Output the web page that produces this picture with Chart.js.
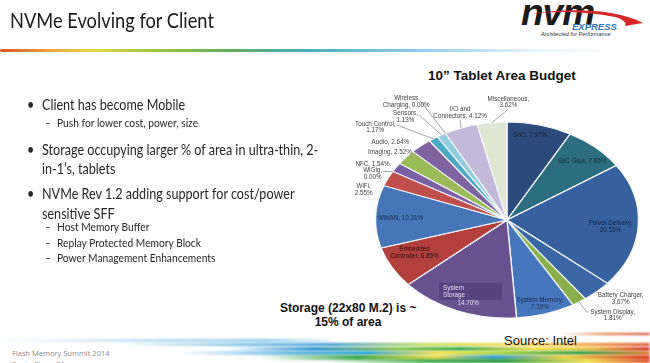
<!DOCTYPE html>
<html>
<head>
<meta charset="utf-8">
<script src="https://cdn.jsdelivr.net/npm/chart.js@4.4.1/dist/chart.umd.min.js"></script>
<style>
  html, body { margin: 0; padding: 0; background: #fff; }
  #slide { position: relative; width: 650px; height: 363px; overflow: hidden; background: #fff; }
  #slide div { position: absolute; white-space: nowrap; }
  #pie { position: absolute; left: 0; top: 0; }
  .title { left: 10px; top: 6px; font: 22px Lato, "Open Sans", sans-serif; color: #1a1a1a; transform: scaleX(0.83); transform-origin: left; }
  .rule { left: 0; top: 49px; width: 610px; height: 3px;
    background: linear-gradient(to right, #d9572b 0%, #e8a23a 8%, #e6d64a 15%, #9cc53e 25%, #5fb05a 38%, #45aebe 50%, #8ccbe8 68%, rgba(200,228,242,0.4) 88%, rgba(255,255,255,0) 100%);
    border-radius: 2px; filter: blur(0.4px); }
  .b { font: 15px Lato, "Open Sans", sans-serif; color: #262626; line-height: 18px; transform: scaleX(0.84); transform-origin: left; }
  .s { font: 11px Lato, "Open Sans", sans-serif; color: #262626; line-height: 14px; transform: scaleX(0.93); transform-origin: left; }
  .ctitle { left: 428px; top: 68px; font: bold 13.5px "Liberation Sans", Arial, sans-serif; color: #111; }
  .note { left: 280px; top: 301px; width: 136px; text-align: center; font: bold 12px "Liberation Sans", Arial, sans-serif; color: #111; line-height: 14px; }
  .src { left: 504px; top: 333px; font: 13px "Liberation Sans", Arial, sans-serif; color: #111; }
  .foot { left: 12px; font: 7.5px "Open Sans", sans-serif; color: #8a8a8a; }
  .streak { height: 3px; filter: blur(0.8px); border-radius: 2px; }
  .logo-nvm { left: 521px; top: -8px; font: bold italic 37px "Liberation Sans", Arial, sans-serif; color: #1b1b1b; letter-spacing: -1px; }
  .logo-ex { left: 572px; top: 21px; font: bold italic 9.5px "Liberation Sans", Arial, sans-serif; color: #2a6fc0; }
  .logo-tag { left: 541px; top: 31px; font: italic 5.6px "Liberation Sans", Arial, sans-serif; color: #333; }
</style>
</head>
<body>
<div id="slide">
  <div class="title">NVMe Evolving for Client</div>
  <div class="rule"></div>

  <div class="logo-nvm">nvm</div>
  <svg style="position:absolute;left:515px;top:5px" width="132" height="26">
    <path d="M14 9 C 50 3, 100 3, 128 18 C 120 19, 116 20, 110 21 C 112 18, 108 14, 100 12 C 70 6, 40 6, 14 9 Z" fill="#d8262b"/>
  </svg>
  <div class="logo-ex">EXPRESS</div>
  <div class="logo-tag">Architected for Performance</div>

  <div class="b" style="left:27px;top:95px">•</div>
  <div class="b" style="left:42px;top:95px">Client has become Mobile</div>
  <div class="s" style="left:45px;top:116px">–</div>
  <div class="s" style="left:57px;top:116px">Push for lower cost, power, size</div>
  <div class="b" style="left:27px;top:140px">•</div>
  <div class="b" style="left:42px;top:140px">Storage occupying larger % of area in ultra-thin, 2-</div>
  <div class="b" style="left:42px;top:159px">in-1’s, tablets</div>
  <div class="b" style="left:27px;top:184px">•</div>
  <div class="b" style="left:42px;top:184px">NVMe Rev 1.2 adding support for cost/power</div>
  <div class="b" style="left:42px;top:204px">sensitive SFF</div>
  <div class="s" style="left:45px;top:220px">–</div>
  <div class="s" style="left:57px;top:220px">Host Memory Buffer</div>
  <div class="s" style="left:45px;top:236px">–</div>
  <div class="s" style="left:57px;top:236px">Replay Protected Memory Block</div>
  <div class="s" style="left:45px;top:251px">–</div>
  <div class="s" style="left:57px;top:251px">Power Management Enhancements</div>

  <div class="ctitle">10” Tablet Area Budget</div>

  <div class="streak" style="left:0;top:339px;width:330px;background:linear-gradient(to right, rgba(190,225,242,0), rgba(170,215,238,0.7) 40%, rgba(120,190,228,0.8) 80%, rgba(160,210,235,0.3));"></div>
  <div class="streak" style="left:120px;top:343px;width:530px;background:linear-gradient(to right, rgba(170,215,238,0), #8ccbe8 20%, #3d9ad6 40%, #c7df4c 58%, #f2d84a 72%, #f0a838 86%, #e0502e);"></div>
  <div class="streak" style="left:230px;top:347px;width:420px;height:4px;background:linear-gradient(to right, rgba(95,176,224,0), #2a8fcf 20%, #8cc84a 40%, #3aa84a 55%, #f0e04a 72%, #e8c23a 85%, #d9342b);"></div>
  <div class="streak" style="left:180px;top:351px;width:470px;height:4px;background:linear-gradient(to right, rgba(120,190,230,0), #5eb4e2 25%, #2fa4d8 40%, #f4e24a 55%, #9fcf3a 70%, #35a04a 85%, #e27c2a);"></div>
  <div class="streak" style="left:260px;top:355px;width:390px;height:5px;background:linear-gradient(to right, rgba(60,160,80,0), #3da84e 25%, #f2dc4a 45%, #2fa0d0 60%, #eccf3f 78%, #d9412b);"></div>
  <div class="streak" style="left:330px;top:359px;width:320px;height:4px;background:linear-gradient(to right, rgba(60,160,80,0), #45ad4e 30%, #2b9a3f 55%, #f2e04a 80%, #e04a2b);"></div>
  <div class="streak" style="left:560px;top:333px;width:90px;height:2px;background:linear-gradient(to right, rgba(230,120,60,0), #e77b3c 50%, #d9402b);"></div>

  <div class="src">Source: Intel</div>
  <div class="note">Storage (22x80 M.2) is ~<br>15% of area</div>
  <div class="foot" style="top:348px">Flash Memory Summit 2014</div>
  <div class="foot" style="top:359px">Santa Clara, CA</div>

  <canvas id="pie" width="650" height="363"></canvas>
</div>

<script>
// slices, clockwise from 12 o'clock
const categories = [
  "SoC", "SoC Glue", "Power Delivery", "Battery Charger", "System Display",
  "System Memory", "System\nStorage", "Embedded\nController", "WWAN", "WiFi",
  "WiGig", "NFC", "Imaging", "Audio", "Touch Control",
  "Sensors", "Wireless\nCharging", "I/O and\nConnectors", "Miscellaneous"
];
const shares = [
  7.97, 7.65, 20.55, 3.67, 1.81,
  7.19, 14.70, 6.85, 10.31, 2.55,
  0.00, 1.54, 2.52, 2.64, 1.17,
  1.13, 0.00, 4.12, 3.62
];
// text between name and percentage
const labelSep = [
  ", ", ", ", ",\n", ",\n", ",\n",
  ",\n", "\n", ", ", ", ", ",\n",
  ",\n", ", ", ", ", ", ", ",\n",
  ",\n", ", ", ", ", ",\n"
];

const sliceColors = [
  "#2c4a7b", "#2b6e80", "#37609e", "#3a66a5", "#8aae4b",
  "#4677bc", "#69518f", "#b3403d", "#4676b8", "#c0504d",
  "#4bacc6", "#7a5fa5", "#9bbb59", "#8064a2", "#4babc6",
  "#93cddd", "#93cddd", "#c4b9d8", "#dfe6d2"
];

// label placement: radius as fraction of pie radius, angle shift in degrees,
// alignment and whether a leader line is drawn
const labelRadius = [0.885, 0.83, 0.79, 1.18, 1.16, 0.89, 0.78, 0.78, 0.81, 1.08,
                     1.06, 1.06, 1.0, 1.09, 1.27, 1.25, 1.38, 1.15, 1.2];
const labelShift = [-2.9, 0.9, 1.9, -3.9, 0.2, 0.8, -1.2, 3.4, -0.6, -8.6,
                    -3.4, 0.2, 3.8, -2.2, -7.8, -2.9, -1.4, 2.4, 7.0];
const labelAlign = ["center", "center", "center", "center", "left", "center", "box", "center", "center", "right",
                    "right", "right", "right", "right", "right", "right", "right", "center", "center"];
const labelLeader = [0, 0, 0, 0, 1, 0, 0, 0, 0, 0, 1, 0, 0, 0, 1, 1, 1, 1, 1];
const labelColor = ["#142036", "#0f2a33", "#13233f", "#404040", "#404040", "#132a4c", "#e6def2", "#2a0d0c", "#13284a", "#404040",
                    "#404040", "#404040", "#404040", "#404040", "#404040", "#404040", "#404040", "#404040", "#404040"];

const SX = 1.342;   // horizontal stretch to get the flattened pie
const LH = 6.6;

const ellipse = {
  id: "ellipse",
  beforeDatasetsDraw(chart) {
    const cx = chart.getDatasetMeta(0).data[0].x;
    const ctx = chart.ctx;
    ctx.save();
    ctx.translate(cx, 0);
    ctx.scale(SX, 1);
    ctx.translate(-cx, 0);
  },
  afterDatasetsDraw(chart) {
    chart.ctx.restore();
  }
};

const sliceLabels = {
  id: "sliceLabels",
  afterDraw(chart) {
    const ctx = chart.ctx;
    const arcs = chart.getDatasetMeta(0).data;
    ctx.save();
    ctx.font = '6.3px "Liberation Sans", Arial, sans-serif';
    ctx.textBaseline = "middle";
    arcs.forEach((arc, i) => {
      const p = arc.getProps(["x", "y", "startAngle", "endAngle", "outerRadius"], true);
      const mid = (p.startAngle + p.endAngle) / 2;
      const a = mid + labelShift[i] * Math.PI / 180;
      const R = p.outerRadius;
      const ax = p.x + Math.cos(a) * R * labelRadius[i] * SX;
      const ay = p.y + Math.sin(a) * R * labelRadius[i];
      const text = categories[i] + labelSep[i] + shares[i].toFixed(2) + "%";
      const lines = text.split("\n");
      const align = labelAlign[i];

      if (labelLeader[i]) {
        const rx = p.x + Math.cos(mid) * R * SX;
        const ry = p.y + Math.sin(mid) * R;
        let ex = ax, ey = ay;
        if (align === "right") { ex = ax + 1; ey = ay - (lines.length - 1) * LH / 2 + 1; }
        if (align === "left") { ex = ax - 2; ey = ay - (lines.length - 1) * LH / 2; }
        if (align === "center") { ey = ay + lines.length * LH / 2; }
        ctx.strokeStyle = "#8c8c8c";
        ctx.lineWidth = 0.8;
        ctx.beginPath();
        ctx.moveTo(rx, ry);
        if (align === "left") {
          ctx.lineTo(ex - 2, ey);
        }
        ctx.lineTo(ex, ey);
        ctx.stroke();
      }

      ctx.fillStyle = labelColor[i];
      if (align === "box") {
        ctx.fillStyle = "rgba(84,62,122,0.75)";
        ctx.fillRect(ax - 31, ay - 8.5, 63, 17);
        ctx.fillStyle = labelColor[i];
        ctx.textAlign = "left";
        ctx.fillText(lines[0], ax - 27, ay - 3);
        ctx.fillText(lines[1], ax - 27, ay + 3.5);
        ctx.textAlign = "center";
        ctx.fillText(lines[2], ax - 2, ay + 11.5);
        return;
      }
      ctx.textAlign = align;
      const y0 = ay - (lines.length - 1) * LH / 2;
      lines.forEach((ln, k) => {
        // second line of outside labels is centred under the first
        if (k > 0 && align !== "center") {
          const w0 = ctx.measureText(lines[0]).width;
          const c = align === "right" ? ax - w0 / 2 : ax + w0 / 2;
          ctx.textAlign = "center";
          ctx.fillText(ln, c, y0 + k * LH);
          ctx.textAlign = align;
          return;
        }
        ctx.fillText(ln, ax, y0 + k * LH);
      });
    });
    ctx.restore();
  }
};

new Chart(document.getElementById("pie"), {
  type: "pie",
  data: {
    labels: categories,
    datasets: [{
      data: shares,
      backgroundColor: sliceColors,
      borderColor: "#f4f7fb",
      borderWidth: 1,
      clip: false
    }]
  },
  options: {
    responsive: false,
    animation: false,
    devicePixelRatio: 1,
    layout: { padding: { left: 408.5, right: 44.5, top: 121.5, bottom: 44.5 } },
    plugins: {
      legend: { display: false },
      tooltip: { enabled: false },
      title: { display: false }
    }
  },
  plugins: [ellipse, sliceLabels]
});
</script>
</body>
</html>
